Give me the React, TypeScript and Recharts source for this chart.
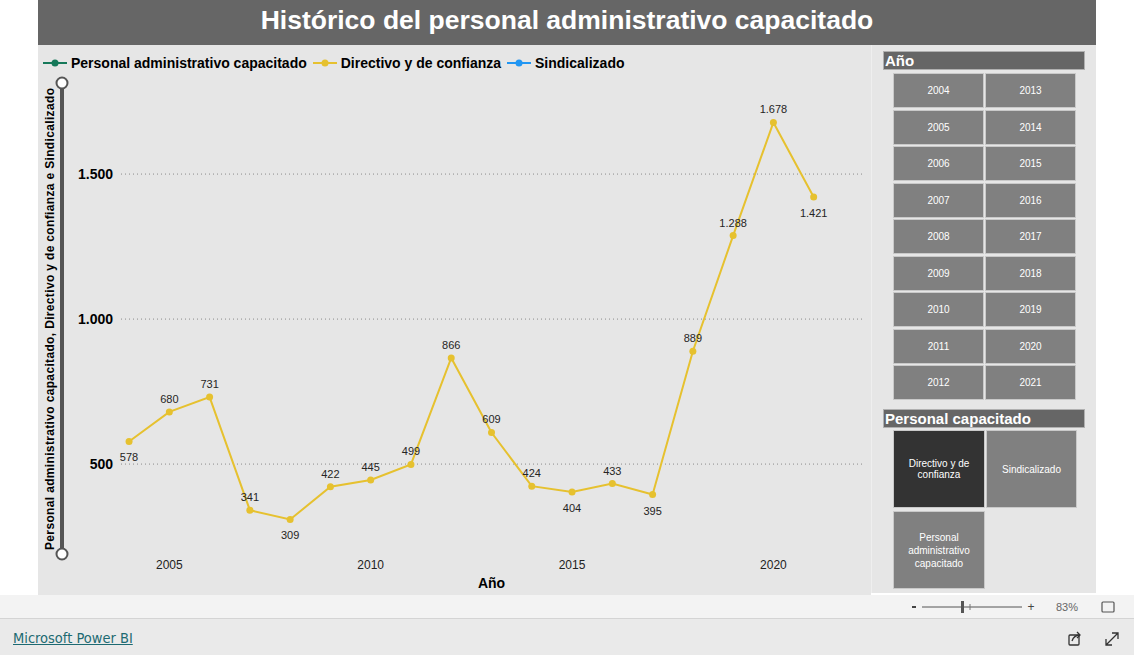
import React from "react"
import { LabelList, Line, LineChart, XAxis, YAxis, Label, ReferenceLine } from "recharts"

const years = [2004, 2005, 2006, 2007, 2008, 2009, 2010, 2011, 2012, 2013, 2014, 2015, 2016, 2017, 2018, 2019, 2020, 2021]
const directivo = [578, 680, 731, 341, 309, 422, 445, 499, 866, 609, 424, 404, 433, 395, 889, 1288, 1678, 1421]
const xTicks = [2005, 2010, 2015, 2020]
const yTicks = [500, 1000, 1500]
const legendItems = [
  { name: "Personal administrativo capacitado", color: "#16795a" },
  { name: "Directivo y de confianza", color: "#e6c12f" },
  { name: "Sindicalizado", color: "#2196f3" },
]
const sliderYears = [
  ["2004", "2013"], ["2005", "2014"], ["2006", "2015"], ["2007", "2016"], ["2008", "2017"],
  ["2009", "2018"], ["2010", "2019"], ["2011", "2020"], ["2012", "2021"],
]

const data = years.map((y, i) => ({ year: y, directivo: directivo[i] }))

const FONT = "Arial, 'Liberation Sans', sans-serif"

const fmt = (n: number) => String(n).replace(/\B(?=(\d{3})+(?!\d))/g, ".")

function PointLabel(props: any) {
  const { x, y, value, index } = props
  const prev = directivo[index - 1]
  const next = directivo[index + 1]
  const below = (prev === undefined || value < prev) && (next === undefined || value < next)
  return (
    <text x={x} y={below ? y + 20 : y - 9} textAnchor="middle" fontSize={11} fill="#252423" fontFamily={FONT}>
      {fmt(value)}
    </text>
  )
}

function ChartLegend() {
  return (
    <div style={{ position: "absolute", left: 43, top: 55, display: "flex", alignItems: "center", fontFamily: FONT, fontWeight: "bold", fontSize: 14, color: "#000" }}>
      {legendItems.map((it) => (
        <div key={it.name} style={{ display: "flex", alignItems: "center", marginRight: 6 }}>
          <svg width={24} height={10} style={{ marginRight: 4 }}>
            <line x1={0} y1={5} x2={24} y2={5} stroke={it.color} strokeWidth={2} />
            <circle cx={12} cy={5} r={3.5} fill={it.color} />
          </svg>
          <span>{it.name}</span>
        </div>
      ))}
    </div>
  )
}

const btn: React.CSSProperties = {
  position: "absolute",
  background: "#808080",
  border: "1px solid #c9c9c9",
  boxSizing: "border-box",
  color: "#fff",
  fontSize: 10,
  display: "flex",
  alignItems: "center",
  justifyContent: "center",
  textAlign: "center",
  fontFamily: FONT,
}

const header: React.CSSProperties = {
  position: "absolute",
  left: 883,
  width: 202,
  height: 19,
  background: "#666",
  border: "1px solid #b0b0b0",
  boxSizing: "border-box",
  color: "#fff",
  fontWeight: "bold",
  fontSize: 15,
  lineHeight: "17px",
  paddingLeft: 1,
  fontFamily: FONT,
}

export default function App() {
  return (
    <div style={{ position: "absolute", left: 0, top: 0, width: 1134, height: 655, background: "#fff", fontFamily: FONT, overflow: "hidden" }}>
      <div style={{ position: "absolute", left: 38, top: 0, width: 1058, height: 45, background: "#666", color: "#fff", fontWeight: "bold", fontSize: 26.5, textAlign: "center", lineHeight: "40px" }}>
        Histórico del personal administrativo capacitado
      </div>

      <div style={{ position: "absolute", left: 38, top: 45, width: 833, height: 550, background: "#e6e6e6" }}>
        <LineChart width={832} height={550} data={data} margin={{ top: 38, right: 8, left: 0, bottom: 0 }}>
          <XAxis
            dataKey="year"
            type="number"
            domain={[2003.8, 2022.2]}
            ticks={xTicks}
            axisLine={false}
            tickLine={false}
            tickSize={0}
            tickMargin={6}
            height={41}
            tick={{ fontSize: 12, fill: "#222", fontFamily: FONT }}
          >
            <Label value="Año" position="insideBottom" offset={7} style={{ fontSize: 14, fontWeight: "bold", fill: "#000", fontFamily: FONT }} />
          </XAxis>
          <YAxis
            type="number"
            domain={[190, 1814]}
            ticks={yTicks}
            axisLine={false}
            tickLine={false}
            tickSize={0}
            tickMargin={8}
            width={83}
            tickFormatter={fmt}
            tick={{ fontSize: 14, fontWeight: "bold", fill: "#000", fontFamily: FONT }}
          />
          {yTicks.map((t) => (
            <ReferenceLine key={t} y={t} stroke="#8a8a8a" strokeDasharray="1 3" />
          ))}
          <Line
            dataKey="directivo"
            stroke="#e6c12f"
            strokeWidth={2}
            dot={{ r: 3.5, fill: "#e6c12f", stroke: "#e6c12f", strokeWidth: 0 }}
            isAnimationActive={false}
          >
            <LabelList dataKey="directivo" content={PointLabel} />
          </Line>
        </LineChart>
      </div>

      <ChartLegend />

      <svg style={{ position: "absolute", left: 38, top: 45 }} width={60} height={550}>
        <text
          transform="translate(16,274) rotate(-90)"
          textAnchor="middle"
          fontSize={12}
          fontWeight="bold"
          fill="#000"
          fontFamily={FONT}
          textLength={462}
          lengthAdjust="spacing"
        >
          Personal administrativo capacitado, Directivo y de confianza e Sindicalizado
        </text>
        <rect x={22} y={38} width={4} height={471} fill="#555" />
        <circle cx={24} cy={38} r={5.5} fill="#fff" stroke="#555" strokeWidth={2} />
        <circle cx={24} cy={509} r={5.5} fill="#fff" stroke="#555" strokeWidth={2} />
      </svg>

      <div style={{ position: "absolute", left: 871, top: 45, width: 225, height: 548, background: "#e6e6e6", borderLeft: "1px solid #efefef", boxSizing: "border-box" }} />

      <div style={{ ...header, top: 51 }}>Año</div>
      {sliderYears.map((row, i) =>
        row.map((y, j) => (
          <div key={y} style={{ ...btn, left: j === 0 ? 893 : 985, top: 73 + i * 36.5, width: 91, height: 35 }}>{y}</div>
        ))
      )}

      <div style={{ ...header, top: 409 }}>Personal capacitado</div>
      <div style={{ ...btn, left: 893, top: 430, width: 92, height: 78, background: "#333" }}>
        Directivo y de<br />confianza
      </div>
      <div style={{ ...btn, left: 986, top: 430, width: 91, height: 78 }}>Sindicalizado</div>
      <div style={{ ...btn, left: 893, top: 511, width: 92, height: 78, lineHeight: "13px" }}>
        Personal<br />administrativo<br />capacitado
      </div>

      <div style={{ position: "absolute", left: 0, top: 595, width: 1134, height: 23, background: "#f3f3f3", borderBottom: "1px solid #d4d4d4" }} />
      <svg style={{ position: "absolute", left: 900, top: 596 }} width={234} height={22}>
        <rect x={12} y={10} width={4} height={2} fill="#444" />
        <line x1={22} y1={11} x2={122} y2={11} stroke="#555" strokeWidth={1} />
        <rect x={61} y={5} width={3} height={12} fill="#555" />
        <line x1={70} y1={8} x2={70} y2={14} stroke="#777" strokeWidth={1} />
        <text x={131} y={15} fontSize={12} fill="#444" fontFamily={FONT} textAnchor="middle">+</text>
        <text x={167} y={15} fontSize={11} fill="#666" fontFamily={FONT} textAnchor="middle">83%</text>
        <rect x={202} y={6} width={12} height={10} rx={1} fill="none" stroke="#555" strokeWidth={1.2} />
      </svg>

      <div style={{ position: "absolute", left: 0, top: 619, width: 1134, height: 36, background: "#eaeaea" }} />
      <div style={{ position: "absolute", left: 13, top: 630, fontSize: 14.5, color: "#1d6a72", textDecoration: "underline", fontFamily: "'Liberation Sans Narrow', 'DejaVu Sans Condensed', Arial, sans-serif" }}>
        Microsoft Power BI
      </div>
      <svg style={{ position: "absolute", left: 1066, top: 630 }} width={60} height={18}>
        <rect x={3} y={5} width={10} height={10} rx={1} fill="none" stroke="#333" strokeWidth={1.3} />
        <path d="M6 11 Q8 5 14 5 M11 2 L14 5 L11 8" fill="none" stroke="#333" strokeWidth={1.3} />
        <path d="M40 15 L52 3 M46 3 L52 3 L52 9 M40 9 L40 15 L46 15" fill="none" stroke="#333" strokeWidth={1.3} />
      </svg>
    </div>
  )
}
